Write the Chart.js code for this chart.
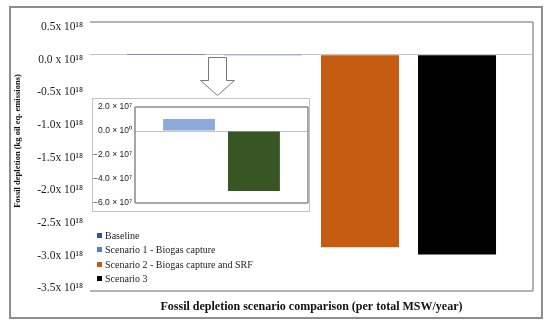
<!DOCTYPE html>
<html>
<head>
<meta charset="utf-8">
<script src="https://cdn.jsdelivr.net/npm/chart.js@4.4.1/dist/chart.umd.min.js"></script>
<style>
  html, body { margin: 0; padding: 0; background: #fff; }
  #wrap { position: relative; width: 550px; height: 326px; overflow: hidden; }
  #frame { position: absolute; left: 9px; top: 6px; width: 534px; height: 313px; border: 2px solid #8e8e8e; box-sizing: border-box; }
  #mainChart { position: absolute; left: 0; top: 0; }
  #inset { position: absolute; left: 92px; top: 98px; width: 218px; height: 114px; border: 1px solid #c4c4c4; box-sizing: border-box; background: #fff; }
  #insetChart { position: absolute; left: 0; top: 0; }
  #legend { position: absolute; left: 97px; top: 229px; font: 10px 'Liberation Serif', serif; color: #222; }
  #legend div { height: 14.3px; line-height: 14.3px; white-space: nowrap; }
  #legend span { display: inline-block; width: 5px; height: 5px; margin-right: 3px; vertical-align: 1px; }
</style>
</head>
<body>
<div id="wrap">
  <div id="frame"></div>
  <canvas id="mainChart" width="550" height="326"></canvas>
  <div id="inset"><canvas id="insetChart" width="216" height="112"></canvas></div>
  <div id="legend"></div>
</div>
<script>
// main chart data (kg oil eq.)
const seriesNames = ['Baseline', 'Scenario 1 - Biogas capture', 'Scenario 2 - Biogas capture and SRF', 'Scenario 3'];
const seriesValues = [1.0e7, -5.0e7, -2.95e18, -3.06e18];
const seriesColors = ['#2F5597', '#4F81C4', '#C55A11', '#000000'];
const tickValues = [0.5e18, 0, -0.5e18, -1.0e18, -1.5e18, -2.0e18, -2.5e18, -3.0e18, -3.5e18];
const tickLabels = ['0.5x 10¹⁸', '0.0 x 10¹⁸', '-0.5x 10¹⁸', '-1.0x 10¹⁸', '-1.5x 10¹⁸', '-2.0x 10¹⁸', '-2.5x 10¹⁸', '-3.0x 10¹⁸', '-3.5x 10¹⁸'];
const yTitle = 'Fossil depletion (kg oil eq. emissions)';
const xTitle = 'Fossil depletion scenario comparison (per total MSW/year)';

// zoomed inset data
const insetNames = ['Baseline', 'Scenario 1 - Biogas capture'];
const insetValues = [1.0e7, -5.0e7];
const insetColors = ['#8EA9DB', '#375623'];
const insetTickValues = [2e7, 0, -2e7, -4e7, -6e7];
const insetTickLabels = ['2.0 × 10⁷', '0.0 × 10⁰', '−2.0 × 10⁷', '−4.0 × 10⁷', '−6.0 × 10⁷'];

const SERIF = "'Liberation Serif', 'Times New Roman', serif";

// draws chosen sides of the plot box
const framePlugin = {
    id: 'frame',
    afterDatasetsDraw(chart, args, opts) {
        const a = chart.chartArea;
        const c = chart.ctx;
        c.save();
        c.strokeStyle = opts.color || '#999';
        c.lineWidth = opts.width || 1;
        c.beginPath();
        const s = opts.sides || ['top', 'right', 'bottom', 'left'];
        if (s.includes('top')) { c.moveTo(a.left, a.top); c.lineTo(a.right, a.top); }
        if (s.includes('right')) { c.moveTo(a.right, a.top); c.lineTo(a.right, a.bottom); }
        if (s.includes('bottom')) { c.moveTo(a.left, a.bottom); c.lineTo(a.right, a.bottom); }
        if (s.includes('left')) { c.moveTo(a.left, a.top); c.lineTo(a.left, a.bottom); }
        c.stroke();
        c.restore();
    }
};

// y title (rotated) and the hollow arrow pointing at the inset
const decoPlugin = {
    id: 'deco',
    afterDraw(chart) {
        const c = chart.ctx;
        c.save();
        c.translate(18, 141);
        c.rotate(-Math.PI / 2);
        c.font = 'bold 8.5px ' + SERIF;
        c.fillStyle = '#111';
        c.textAlign = 'center';
        c.textBaseline = 'middle';
        c.fillText(yTitle, 0, 0);
        c.restore();

        c.save();
        c.strokeStyle = '#7a7a7a';
        c.fillStyle = '#fff';
        c.lineWidth = 1;
        c.beginPath();
        c.moveTo(208.5, 57.5);
        c.lineTo(226.5, 57.5);
        c.lineTo(226.5, 80.5);
        c.lineTo(234.5, 80.5);
        c.lineTo(217.5, 95.5);
        c.lineTo(200.5, 80.5);
        c.lineTo(208.5, 80.5);
        c.closePath();
        c.fill();
        c.stroke();
        c.restore();
    }
};

new Chart(document.getElementById('mainChart'), {
    type: 'bar',
    data: {
        labels: [''],
        datasets: seriesNames.map((name, i) => ({
            label: name,
            data: [seriesValues[i]],
            backgroundColor: seriesColors[i],
            borderWidth: 0,
            categoryPercentage: 0.876,
            barPercentage: 0.804
        }))
    },
    options: {
        responsive: false,
        animation: false,
        layout: { padding: { left: 12, right: 17, top: 22, bottom: 11.6 } },
        plugins: {
            legend: { display: false },
            tooltip: { enabled: false },
            frame: { color: '#9a9a9a', width: 1.5, sides: ['top', 'right', 'bottom'] }
        },
        scales: {
            x: {
                grid: { display: false, drawTicks: false },
                border: { display: false },
                ticks: { display: false },
                title: {
                    display: true,
                    text: xTitle,
                    color: '#111',
                    font: { family: SERIF, size: 12, weight: 'bold' },
                    padding: { top: 9, bottom: 0 }
                }
            },
            y: {
                min: -3.62e18,
                max: 0.5e18,
                afterBuildTicks: scale => { scale.ticks = tickValues.map(v => ({ value: v })); },
                afterFit: scale => { scale.width = 78; },
                grid: {
                    drawTicks: false,
                    color: ctx => (ctx.tick && ctx.tick.value === 0) ? '#c4c4c4' : 'transparent'
                },
                border: { display: false },
                ticks: {
                    callback: (v, i) => tickLabels[i],
                    labelOffset: 5,
                    padding: 7,
                    color: '#222',
                    font: { family: SERIF, size: 11.5 }
                }
            }
        }
    },
    plugins: [framePlugin, decoPlugin]
});

new Chart(document.getElementById('insetChart'), {
    type: 'bar',
    data: {
        labels: [''],
        datasets: insetNames.map((name, i) => ({
            label: name,
            data: [insetValues[i]],
            backgroundColor: insetColors[i],
            borderWidth: 0,
            categoryPercentage: 0.75,
            barPercentage: 0.8
        }))
    },
    options: {
        responsive: false,
        animation: false,
        layout: { padding: { left: 0, right: 1, top: 6, bottom: 8 } },
        plugins: {
            legend: { display: false },
            tooltip: { enabled: false },
            frame: { color: '#8a8a8a', width: 1.5 }
        },
        scales: {
            x: { display: false },
            y: {
                min: -6e7,
                max: 2e7,
                afterBuildTicks: scale => { scale.ticks = insetTickValues.map(v => ({ value: v })); },
                afterFit: scale => { scale.width = 42; },
                grid: {
                    drawTicks: false,
                    color: ctx => (ctx.tick && ctx.tick.value === 0) ? '#c4c4c4' : 'transparent'
                },
                border: { display: false },
                ticks: {
                    callback: (v, i) => insetTickLabels[i],
                    padding: 3,
                    color: '#222',
                    font: { family: "'Liberation Sans', Arial, sans-serif", size: 8.5 }
                }
            }
        }
    },
    plugins: [framePlugin]
});

// legend built from the series arrays
const legendEl = document.getElementById('legend');
seriesNames.forEach((name, i) => {
    const row = document.createElement('div');
    const box = document.createElement('span');
    box.style.background = seriesColors[i];
    row.appendChild(box);
    row.appendChild(document.createTextNode(name));
    legendEl.appendChild(row);
});
</script>
</body>
</html>
